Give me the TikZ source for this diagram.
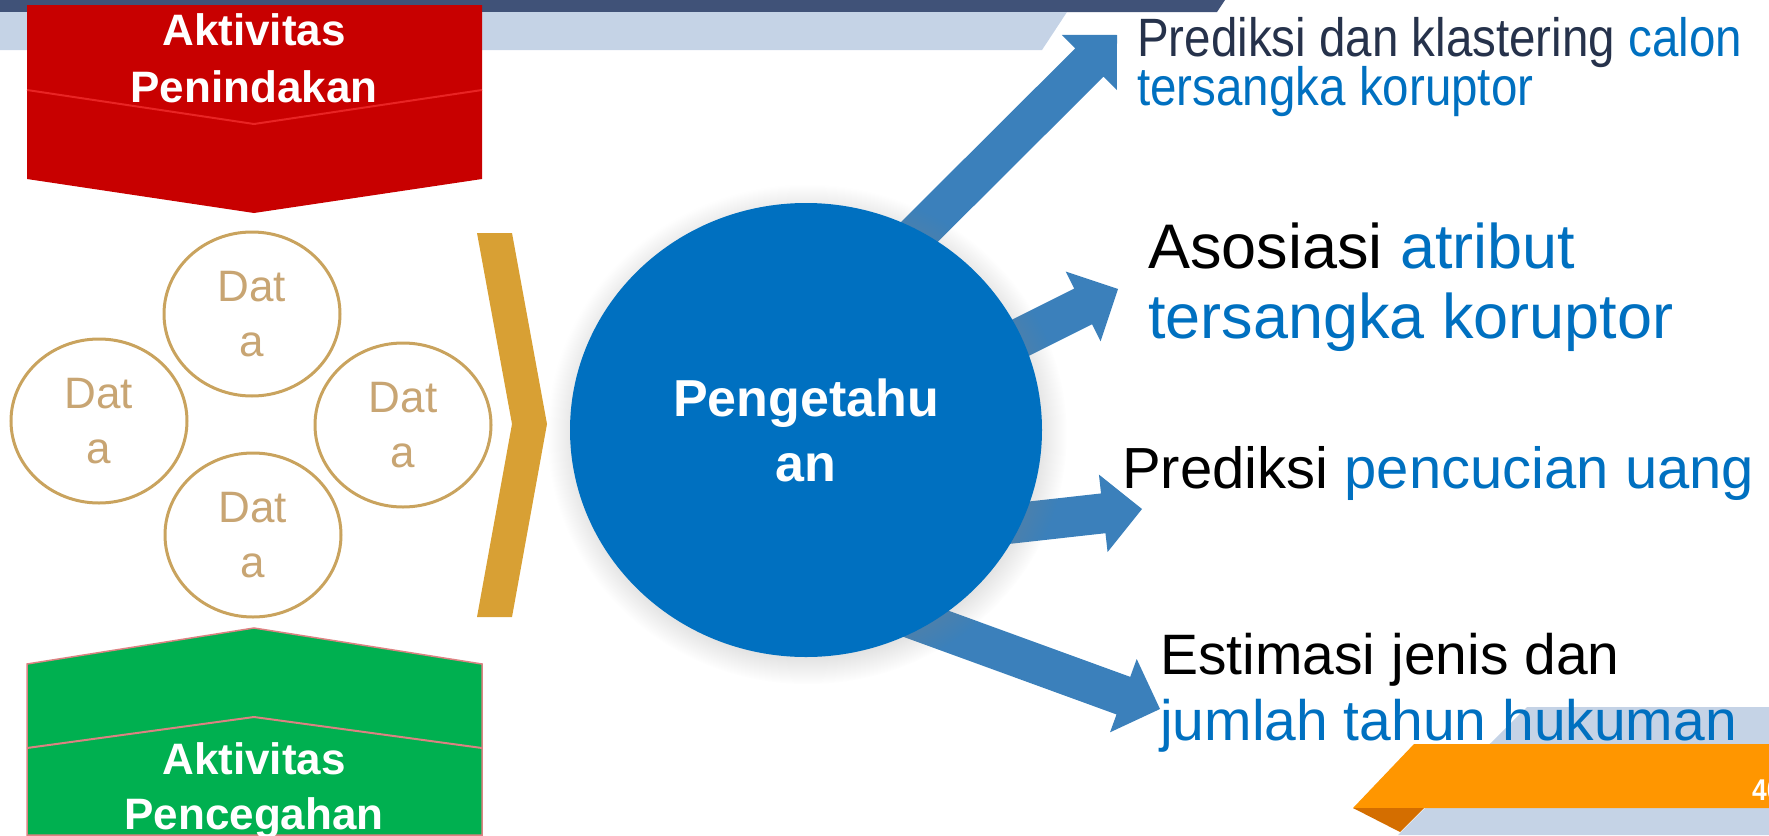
\documentclass[tikz,border=0pt]{standalone}
\usepackage{fontspec}
\setmainfont{Liberation Sans}
\newfontfamily\condfont[FakeStretch=0.88]{Liberation Sans}
\usetikzlibrary{shapes.geometric,calc,shadows}

\definecolor{navyband}{RGB}{64,82,120}
\definecolor{paleband}{RGB}{197,211,230}
\definecolor{actred}{RGB}{200,0,0}
\definecolor{actredline}{RGB}{232,36,36}
\definecolor{actgreen}{RGB}{0,176,80}
\definecolor{greenedge}{RGB}{220,130,130}
\definecolor{gold}{RGB}{216,160,52}
\definecolor{ringtan}{RGB}{201,163,94}
\definecolor{datatext}{RGB}{200,165,115}
\definecolor{coreblue}{RGB}{0,112,192}
\definecolor{arrowblue}{RGB}{59,128,187}
\definecolor{slate}{RGB}{38,50,75}
\definecolor{hiblue}{RGB}{0,112,192}
\definecolor{taborange}{RGB}{255,150,0}
\definecolor{taborangedark}{RGB}{212,110,0}

\begin{document}
\begin{tikzpicture}[x=1pt,y=-1pt,
  datanode/.style={ellipse, draw=ringtan, line width=3pt,
    minimum width=176pt, minimum height=164pt, inner sep=0pt,
    align=center, text=datatext, font=\fontsize{44}{55}\selectfont},
  corenode/.style={ellipse, fill=coreblue, minimum width=472pt,
    minimum height=454pt, inner sep=0pt, align=center, text=white,
    font=\bfseries\fontsize{52}{65}\selectfont,
    circular drop shadow={shadow xshift=1pt, shadow yshift=-4pt, opacity=0.3}},
  acttext/.style={text=white, align=center, inner sep=0pt},
  rtext/.style={anchor=base west, inner sep=0pt},
  blockfill/.style={fill=arrowblue}]

\useasboundingbox (0,0) rectangle (1769,835);
\begin{scope}
\clip (0,0) rectangle (1769,835);

% header bands
\fill[navyband] (0,0) -- (1225,0) -- (1217,12) -- (0,12) -- cycle;
\fill[paleband] (0,12) -- (1067,12) -- (1042,50) -- (0,50) -- cycle;

% footer bands and page tab
\fill[paleband] (1527,707) -- (1769,707) -- (1769,835) -- (1398,835) -- cycle;
\fill[taborange] (1414,744) -- (1769,744) -- (1769,808) -- (1353,808) -- cycle;
\fill[taborangedark] (1353,808) -- (1424,808) -- (1400,832) -- cycle;
\node[anchor=base west, inner sep=0pt, text=white,
  font=\condfont\bfseries\fontsize{30}{30}\selectfont] (pg) at (1752,800) {40};

% enforcement banner (pointing down)
\fill[actred] (27,5) -- (482,5) -- (482,179) -- (254,213) -- (27,179) -- cycle;
\draw[actredline, line width=2pt] (27,90) -- (254,124) -- (482,90);
\node[acttext, font=\bfseries\fontsize{44}{57}\selectfont] (pen) at (254,58)
  {Aktivitas\\Penindakan};

% prevention banner (pointing up)
\fill[actgreen, draw=greenedge, line width=1.5pt]
  (27,835) -- (27,664) -- (254,628) -- (482,664) -- (482,835) -- cycle;
\draw[greenedge, line width=2pt] (27,748) -- (254,717) -- (482,748);
\node[acttext, font=\bfseries\fontsize{44}{55}\selectfont] (pre) at (254,791)
  {Aktivitas\\Pencegahan};

% data sources
\node[datanode] (d1) at (252,314) {Dat\\a};
\node[datanode] (d2) at (99,421) {Dat\\a};
\node[datanode] (d3) at (403,425) {Dat\\a};
\node[datanode] (d4) at (253,535) {Dat\\a};

% chevron
\fill[gold] (477,233) -- (512,233) -- (547,424) -- (512,617) -- (477,617)
  -- (512,424) -- cycle;

% outgoing block arrows (behind the knowledge circle)
\coordinate (s1) at (830,321);  \coordinate (t1) at (1117,35);
\coordinate (s2) at (878,409);  \coordinate (t2) at (1118,289);
\coordinate (s3) at (900,536);  \coordinate (t3) at (1142,509);
\coordinate (s4) at (847,595);  \coordinate (t4) at (1160,709);
\foreach \s/\t in {s1/t1,s2/t2,s3/t3,s4/t4}{
  \coordinate (hb) at ($(\t)!39pt!(\s)$);
  \fill[blockfill] ($(\s)!20pt!90:(\t)$) -- ($(hb)!20pt!90:(\t)$)
    -- ($(hb)!39pt!90:(\t)$) -- (\t) -- ($(hb)!39pt!-90:(\t)$)
    -- ($(hb)!20pt!-90:(\t)$) -- ($(\s)!20pt!-90:(\t)$) -- cycle;
}

% knowledge circle
\node[corenode] (core) at (806,430) {Pengetahu\\an};

% outcomes
\node[rtext, text=slate, font=\condfont\fontsize{54}{54}\selectfont] (o1a)
  at (1137,56) {Prediksi dan klastering \textcolor{hiblue}{calon}};
\node[rtext, text=hiblue, font=\condfont\fontsize{54}{54}\selectfont] (o1b)
  at (1137,105) {tersangka koruptor};
\node[rtext, font=\fontsize{63}{63}\selectfont] (o2a)
  at (1148,268) {Asosiasi \textcolor{hiblue}{atribut}};
\node[rtext, text=hiblue, font=\fontsize{63}{63}\selectfont] (o2b)
  at (1148,338) {tersangka koruptor};
\node[rtext, font=\fontsize{58}{58}\selectfont] (o3)
  at (1122,488) {Prediksi \textcolor{hiblue}{pencucian uang}};
\node[rtext, font=\fontsize{57}{57}\selectfont] (o4a)
  at (1160,674) {Estimasi jenis dan};
\node[rtext, text=hiblue, font=\fontsize{57}{57}\selectfont] (o4b)
  at (1160,740) {jumlah tahun hukuman};
\end{scope}
\end{tikzpicture}
\end{document}
